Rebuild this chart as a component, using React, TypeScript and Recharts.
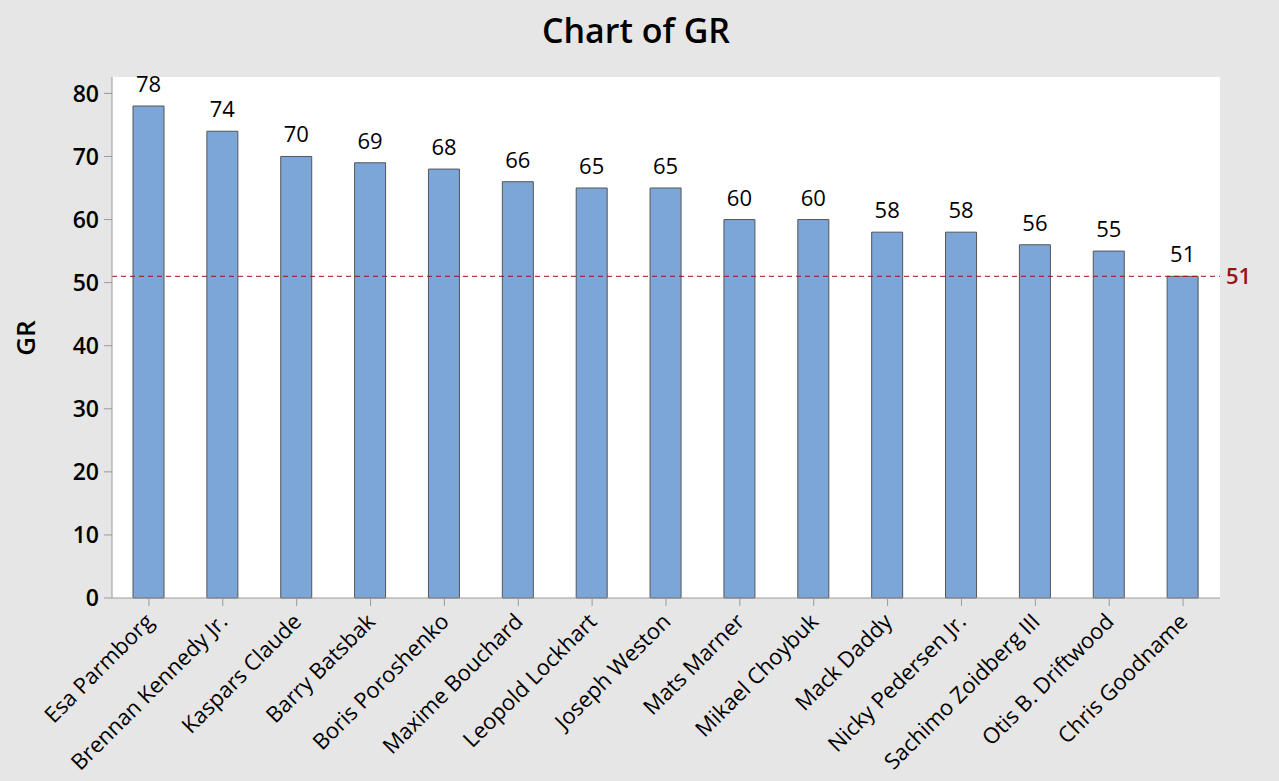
import React from "react";
import {
  Bar,
  BarChart,
  CartesianGrid,
  LabelList,
  ReferenceLine,
  XAxis,
  YAxis,
} from "recharts";

const names = [
  "Esa Parmborg",
  "Brennan Kennedy Jr.",
  "Kaspars Claude",
  "Barry Batsbak",
  "Boris Poroshenko",
  "Maxime Bouchard",
  "Leopold Lockhart",
  "Joseph Weston",
  "Mats Marner",
  "Mikael Choybuk",
  "Mack Daddy",
  "Nicky Pedersen Jr.",
  "Sachimo Zoidberg III",
  "Otis B. Driftwood",
  "Chris Goodname",
];
const grValues = [78, 74, 70, 69, 68, 66, 65, 65, 60, 60, 58, 58, 56, 55, 51];
const yTicks = [0, 10, 20, 30, 40, 50, 60, 70, 80];
const refValue = 51;

const data = names.map((name, i) => ({ name, gr: grValues[i] }));

const FONT = "'Open Sans', 'Noto Sans', sans-serif";
const AXIS_GRAY = "#9a9a9a";

function NameTick({ x, y, payload }: any) {
  const tx = x + 6;
  const ty = y + 15;
  return (
    <text
      x={tx}
      y={ty}
      transform={`rotate(-45 ${tx} ${ty})`}
      textAnchor="end"
      fontSize={22}
      fontWeight={500}
      fill="#000"
      fontFamily={FONT}
    >
      {payload.value}
    </text>
  );
}

export default function App() {
  return (
    <div
      style={{
        position: "absolute",
        top: 0,
        left: 0,
        width: 1279,
        height: 781,
        background: "#e6e6e6",
        fontFamily: FONT,
      }}
    >
      <div
        style={{
          position: "absolute",
          top: 7,
          left: 0,
          width: 1272,
          textAlign: "center",
          fontSize: 34,
          fontWeight: 600,
          color: "#000",
        }}
      >
        Chart of GR
      </div>
      <div
        style={{
          position: "absolute",
          left: 25,
          top: 338,
          transform: "translate(-50%, -50%) rotate(-90deg)",
          fontSize: 26,
          fontWeight: 600,
          color: "#000",
        }}
      >
        GR
      </div>
      <BarChart
        width={1279}
        height={781}
        data={data}
        margin={{ top: 77, right: 59, left: 0, bottom: 0 }}
        barCategoryGap={0}
      >
        <CartesianGrid fill="#ffffff" horizontal={false} vertical={false} />
        <XAxis
          dataKey="name"
          interval={0}
          height={183}
          tick={<NameTick />}
          tickSize={8}
          tickLine={{ stroke: AXIS_GRAY }}
          axisLine={{ stroke: AXIS_GRAY }}
        />
        <XAxis
          xAxisId="top"
          dataKey="name"
          orientation="top"
          height={0}
          tick={false}
          tickLine={false}
          axisLine={{ stroke: AXIS_GRAY }}
        />
        <YAxis
          width={112}
          domain={[0, 82.6]}
          ticks={yTicks}
          tickSize={8}
          tickMargin={5}
          tickLine={{ stroke: AXIS_GRAY }}
          axisLine={{ stroke: AXIS_GRAY }}
          tick={{ fontSize: 23, fontWeight: 600, fill: "#000", fontFamily: FONT }}
        />
        <YAxis
          yAxisId="right"
          orientation="right"
          width={0}
          domain={[0, 82.6]}
          tick={false}
          tickLine={false}
          axisLine={{ stroke: AXIS_GRAY }}
        />
        <Bar
          dataKey="gr"
          fill="#7ca6d8"
          stroke="#555555"
          strokeWidth={1}
          barSize={31}
          isAnimationActive={false}
        >
          <LabelList
            dataKey="gr"
            position="top"
            offset={14}
            fill="#000"
            fontSize={22}
            fontFamily={FONT}
          />
        </Bar>
        <ReferenceLine
          y={refValue}
          stroke="#9a1414"
          strokeDasharray="5 4"
          label={{
            value: String(refValue),
            position: "right",
            fill: "#9a1414",
            fontSize: 22,
            fontWeight: 600,
            fontFamily: FONT,
            offset: 6,
          }}
        />
      </BarChart>
    </div>
  );
}
